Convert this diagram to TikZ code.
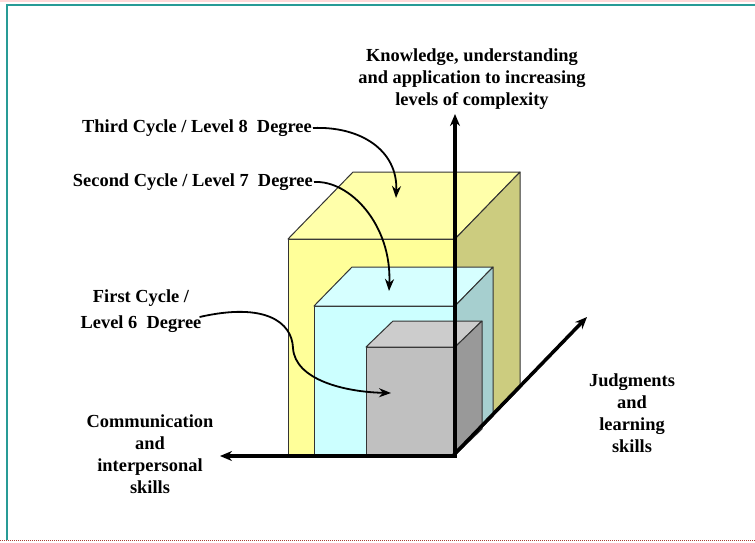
\documentclass[tikz,border=0pt]{standalone}
\usepackage{fontspec}
\setmainfont{Liberation Serif}
\usetikzlibrary{arrows.meta}
\definecolor{teal1}{RGB}{40,155,150}
\definecolor{dotred}{RGB}{170,60,50}
\definecolor{yfront}{RGB}{255,255,153}
\definecolor{ytop}{RGB}{255,255,170}
\definecolor{yside}{RGB}{204,204,127}
\definecolor{cfront}{RGB}{204,255,255}
\definecolor{ctop}{RGB}{214,255,255}
\definecolor{cside}{RGB}{166,207,207}
\definecolor{gfront}{RGB}{192,192,192}
\definecolor{gtop}{RGB}{204,204,204}
\definecolor{gside}{RGB}{153,153,153}
\tikzset{
  face/.style={draw=black!80, line width=1pt, line join=round},
  lbl/.style={font=\fontsize{18.4}{22}\selectfont\bfseries, inner sep=1pt, align=center},
  axis/.style={line width=3.5pt, -{Stealth[length=12pt,width=10pt]}},
  curv/.style={line width=1.8pt, -{Stealth[length=12pt,width=9pt]}}
}
\begin{document}
\begin{tikzpicture}[x=1pt,y=-1pt]
\useasboundingbox (0,0) rectangle (755,542);
% frame
\draw[red!15, line width=1.5pt] (0,0.8) -- (755,0.8);
\draw[teal1, line width=2.2pt] (7,5) -- (755,5);
\draw[teal1, line width=2.2pt] (7,4) -- (7,540);
\draw[dotred, line width=1.2pt, dash pattern=on 1pt off 1pt] (0,540.5) -- (755,540.5);
% yellow cube
\fill[yfront, face] (288,239) rectangle (455,455);
\fill[ytop, face] (288,239) -- (353,172) -- (520,172) -- (455,239) -- cycle;
\fill[yside, face] (455,239) -- (520,172) -- (520,388) -- (455,455) -- cycle;
% cyan cube
\fill[cfront, face] (314,306) rectangle (455,455);
\fill[ctop, face] (314,306) -- (352,267) -- (493,267) -- (455,306) -- cycle;
\fill[cside, face] (455,306) -- (493,267) -- (493,416) -- (455,455) -- cycle;
% gray cube
\fill[gfront, face] (366,347) rectangle (455,455);
\fill[gtop, face] (366,347) -- (393,321) -- (482,321) -- (455,347) -- cycle;
\fill[gside, face] (455,347) -- (482,321) -- (482,429) -- (455,455) -- cycle;
% axes
\coordinate (o) at (455,456);
\coordinate (ytip) at (455,114);
\coordinate (xtip) at (220,456);
\coordinate (ztip) at (587,317);
\draw[axis] (o) -- (ytip);
\draw[axis] ([xshift=1.75pt]o) -- (xtip);
\draw[axis] ([xshift=-1.2pt,yshift=1.2pt]o) -- (ztip);
% labels
\node[lbl] (know) at (472,79) {Knowledge, understanding\\and application to increasing\\levels of complexity};
\node[lbl, anchor=east] (third) at (313,128) {Third Cycle / Level 8\ \ Degree};
\node[lbl, anchor=east] (second) at (314,182) {Second Cycle / Level 7\ \ Degree};
\node[lbl, font=\fontsize{18.4}{26}\selectfont\bfseries] (first) at (141,311) {First Cycle /\\Level 6\ \ Degree};
\node[lbl] (comm) at (150,454) {Communication\\and\\interpersonal\\skills};
\node[lbl] (judg) at (632,413) {Judgments\\and\\learning\\skills};
% curved arrows
\coordinate (t3) at (396,198);
\coordinate (t2) at (389,291);
\coordinate (t1) at (391,393);
\draw[curv] (third.east) .. controls (360,126) and (398,150) .. (t3);
\draw[curv] (second.east) .. controls (350,180) and (392,225) .. (t2);
\draw[curv] ([xshift=-3pt,yshift=-6pt]first.east) .. controls (265,302) and (292,322) .. (293,348)
  .. controls (295,380) and (345,392) .. (t1);
\end{tikzpicture}
\end{document}
